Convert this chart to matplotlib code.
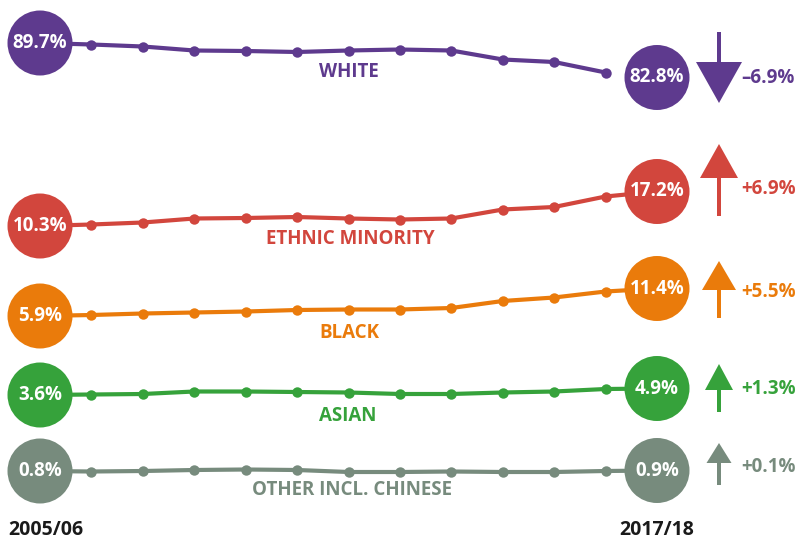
import matplotlib
matplotlib.use("Agg")
import matplotlib.pyplot as plt
from matplotlib.patches import FancyArrow

plt.rcParams['font.family'] = ['Open Sans', 'DejaVu Sans']

# ---- data ----
years = ['2005/06', '2006/07', '2007/08', '2008/09', '2009/10', '2010/11', '2011/12',
         '2012/13', '2013/14', '2014/15', '2015/16', '2016/17', '2017/18']
names = ['WHITE', 'ETHNIC MINORITY', 'BLACK', 'ASIAN', 'OTHER INCL. CHINESE']
white = [89.7, 89.4, 89.0, 88.2, 88.1, 87.9, 88.2, 88.4, 88.2, 86.4, 85.9, 83.8, 82.8]
ethnic_minority = [10.3, 10.6, 11.0, 11.8, 11.9, 12.1, 11.8, 11.6, 11.8, 13.6, 14.1, 16.2, 17.2]
black = [5.9, 6.1, 6.4, 6.6, 6.8, 7.1, 7.2, 7.2, 7.5, 8.9, 9.6, 10.8, 11.4]
asian = [3.6, 3.7, 3.8, 4.3, 4.3, 4.2, 4.1, 3.8, 3.8, 4.1, 4.3, 4.8, 4.9]
other = [0.8, 0.7, 0.8, 1.0, 1.1, 1.0, 0.6, 0.6, 0.7, 0.6, 0.6, 0.8, 0.9]
series = [white, ethnic_minority, black, asian, other]

# ---- styling / layout (pixels) ----
colors = ['#5E3A8E', '#D2463D', '#EA7B0B', '#36A23B', '#778B7D']
start_y = [43, 226, 316, 395, 471]        # where the first value sits
connect_last = [False, True, True, True, True]
label_y = [72, 239, 333, 416, 490]
label_x = [349, 350, 349, 348, 352]
# arrow: tail y, tip y, head width, head length
arrows = [(32, 103, 46, 41), (216, 144, 38, 34), (318, 261, 34, 29),
          (412, 364, 28, 26), (485, 443, 25, 20)]
change_y = [78, 189, 292, 389, 467]

W, H = 802, 543
X0, X1 = 40, 657
PX = 5.0  # pixels per percentage point
n = len(years)
dx = (X1 - X0) / (n - 1)
idx = list(range(n))

fig = plt.figure(figsize=(W / 100, H / 100), dpi=100)
lay = fig.add_axes([0, 0, 1, 1])
lay.set_xlim(0, W)
lay.set_ylim(H, 0)
lay.axis('off')

circle_s = (65 * 0.72) ** 2
fs = 13.5

for i, vals in enumerate(series):
    c = colors[i]
    ax = fig.add_axes([0, 0, 1, 1])
    ax.patch.set_alpha(0)
    ax.axis('off')
    ax.set_xlim(-X0 / dx, (W - X0) / dx)
    top = vals[0] + start_y[i] / PX
    ax.set_ylim(top - H / PX, top)

    m = n if connect_last[i] else n - 1
    ax.plot(idx[:m], vals[:m], color=c, lw=3, solid_capstyle='round', zorder=1)
    ax.plot(idx[1:-1], vals[1:-1], 'o', color=c, ms=7.5, mec='none', zorder=2)
    ax.scatter([idx[0], idx[-1]], [vals[0], vals[-1]], s=circle_s, color=c,
               edgecolors='none', zorder=3)
    for k in (0, n - 1):
        ax.text(idx[k], vals[k], f"{vals[k]:.1f}%", ha='center', va='center',
                color='white', fontsize=fs, fontweight='bold', zorder=4)

    lay.text(label_x[i], label_y[i], names[i], ha='center', va='center',
             color=c, fontsize=fs, fontweight='bold')

    tail, tip, hw, hl = arrows[i]
    lay.add_patch(FancyArrow(719, tail, 0, tip - tail, width=4, head_width=hw,
                             head_length=hl, length_includes_head=True,
                             color=c, lw=0))
    change = vals[-1] - vals[0]
    sign = '+' if change >= 0 else '\u2013'
    lay.text(741, change_y[i], f"{sign}{abs(change):.1f}%", ha='left', va='center',
             color=c, fontsize=fs, fontweight='bold')

lay.text(8, 530, years[0], ha='left', va='center', color='#1a1a1a',
         fontsize=14, fontweight='bold')
lay.text(X1, 530, years[-1], ha='center', va='center', color='#1a1a1a',
         fontsize=14, fontweight='bold')

fig.savefig('out.png', dpi=100)
